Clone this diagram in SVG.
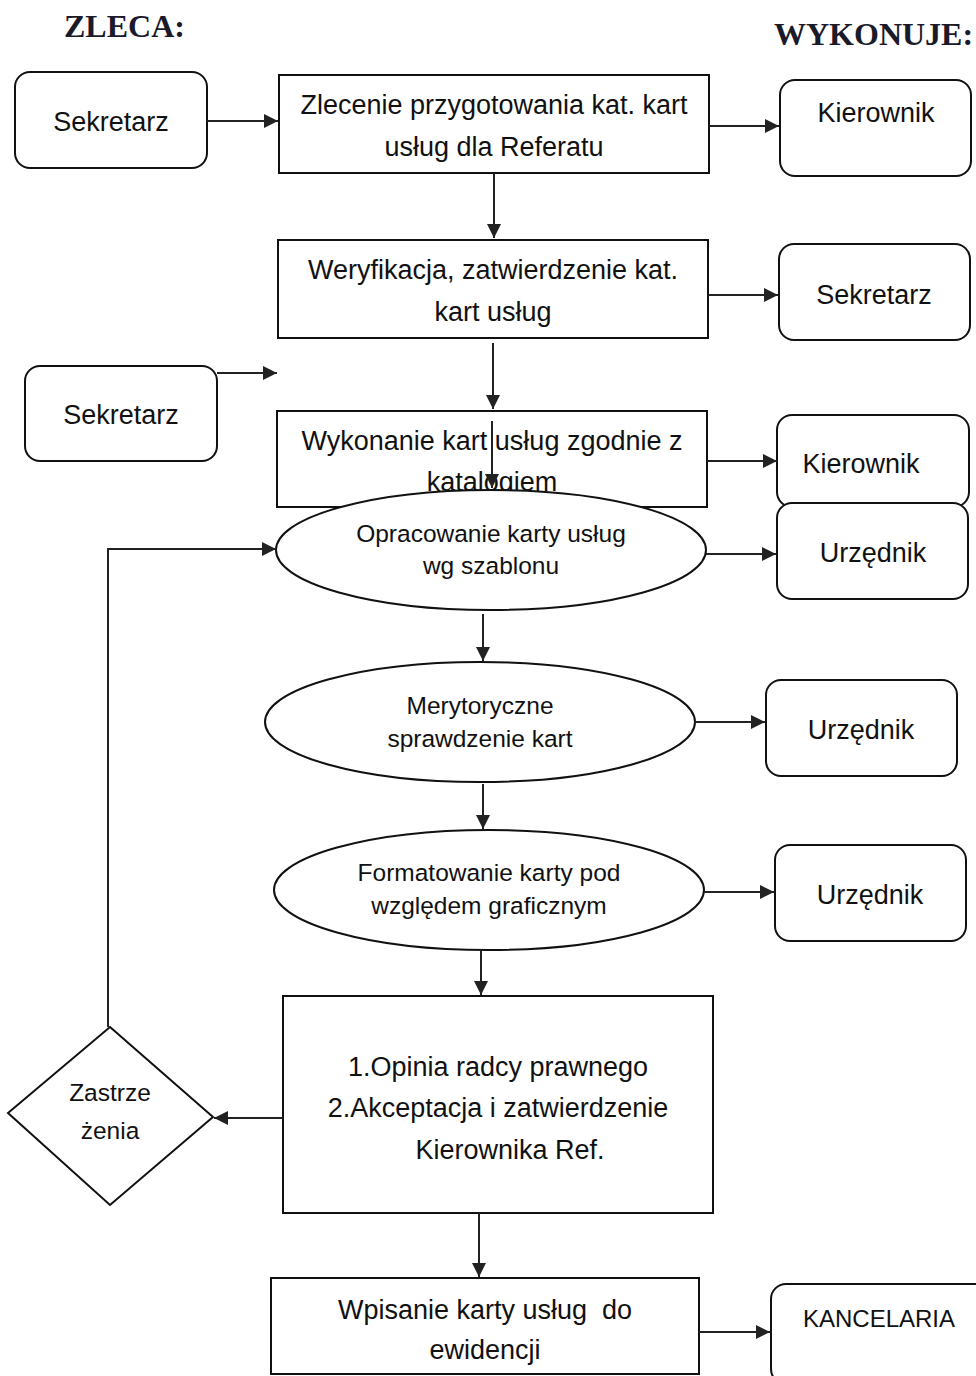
<svg xmlns="http://www.w3.org/2000/svg" width="976" height="1376" viewBox="0 0 976 1376">
<defs>
<marker id="ah" viewBox="0 0 10 10" refX="10" refY="5" markerWidth="14" markerHeight="14" markerUnits="userSpaceOnUse" orient="auto">
<path d="M0,0 L10,5 L0,10 z" fill="#222"/>
</marker>
<style>
.b{fill:#fff;stroke:#111;stroke-width:2}
.t{font-family:"Liberation Sans",Arial,sans-serif;font-size:27px;fill:#111;text-anchor:middle}
.s{font-family:"Liberation Sans",Arial,sans-serif;font-size:24.5px;fill:#111;text-anchor:middle}
.h{font-family:"Liberation Serif","Times New Roman",serif;font-size:32px;font-weight:bold;fill:#1a1a2a}
.c{fill:none;stroke:#222;stroke-width:2;marker-end:url(#ah)}
</style>
</defs>
<rect width="976" height="1376" fill="#fff"/>
<text class="h" x="64" y="37">ZLECA:</text>
<text class="h" x="774" y="45">WYKONUJE:</text>

<g id="sek1"><rect class="b" x="15" y="72" width="192" height="96" rx="15"/><text class="t" x="111" y="131">Sekretarz</text></g>
<g id="box1"><rect class="b" x="279" y="75" width="430" height="98"/><text class="t" x="494" y="114">Zlecenie przygotowania kat. kart</text><text class="t" x="494" y="156">usług dla Referatu</text></g>
<g id="kier1"><rect class="b" x="780" y="80" width="191" height="96" rx="15"/><text class="t" x="876" y="122">Kierownik</text></g>

<g id="box2"><rect class="b" x="278" y="240" width="430" height="98"/><text class="t" x="493" y="279">Weryfikacja, zatwierdzenie kat.</text><text class="t" x="493" y="321">kart usług</text></g>
<g id="sek2"><rect class="b" x="779" y="244" width="191" height="96" rx="15"/><text class="t" x="874" y="304">Sekretarz</text></g>

<g id="sek3"><rect class="b" x="25" y="366" width="192" height="95" rx="15"/><text class="t" x="121" y="424">Sekretarz</text></g>
<g id="box3"><rect class="b" x="277" y="411" width="430" height="96"/><text class="t" x="492" y="450">Wykonanie kart usług zgodnie z</text><text class="t" x="492" y="491">katalogiem</text></g>
<g id="kier2"><rect class="b" x="777" y="415" width="192" height="92" rx="15"/><text class="t" x="861" y="473">Kierownik</text></g>

<g id="ell1"><ellipse class="b" cx="491" cy="550" rx="215" ry="60"/><text class="s" x="491" y="542">Opracowanie karty usług</text><text class="s" x="491" y="574">wg szablonu</text></g>
<g id="urz1"><rect class="b" x="777" y="503" width="191" height="96" rx="15"/><text class="t" x="873" y="562">Urzędnik</text></g>

<g id="ell2"><ellipse class="b" cx="480" cy="722" rx="215" ry="60"/><text class="s" x="480" y="714">Merytoryczne</text><text class="s" x="480" y="747">sprawdzenie kart</text></g>
<g id="urz2"><rect class="b" x="766" y="680" width="191" height="96" rx="15"/><text class="t" x="861" y="739">Urzędnik</text></g>

<g id="ell3"><ellipse class="b" cx="489" cy="890" rx="215" ry="60"/><text class="s" x="489" y="881">Formatowanie karty pod</text><text class="s" x="489" y="914">względem graficznym</text></g>
<g id="urz3"><rect class="b" x="775" y="845" width="191" height="96" rx="15"/><text class="t" x="870" y="904">Urzędnik</text></g>

<g id="box4"><rect class="b" x="283" y="996" width="430" height="217"/><text class="t" x="498" y="1076">1.Opinia radcy prawnego</text><text class="t" x="498" y="1117">2.Akceptacja i zatwierdzenie</text><text class="t" x="510" y="1159">Kierownika Ref.</text></g>
<g id="diam"><polygon class="b" points="110,1027 213,1117 110,1205 8,1113"/><text class="s" x="110" y="1101">Zastrze</text><text class="s" x="110" y="1139">żenia</text></g>

<g id="box5"><rect class="b" x="271" y="1278" width="428" height="96"/><text class="t" x="485" y="1319">Wpisanie karty usług&#160; do</text><text class="t" x="485" y="1359">ewidencji</text></g>
<g id="kanc"><rect class="b" x="771" y="1284" width="220" height="100" rx="15"/><text class="t" x="879" y="1327" style="font-size:24px">KANCELARIA</text></g>

<g id="connectors">
<path class="c" d="M207,121 H278"/>
<path class="c" d="M709,126 H779"/>
<path class="c" d="M494,173 V238"/>
<path class="c" d="M708,295 H778"/>
<path class="c" d="M493,343 V409"/>
<path class="c" d="M217,373 H277"/>
<path class="c" d="M492,421 V488"/>
<path class="c" d="M707,461 H777"/>
<path class="c" d="M706,554 H776"/>
<path class="c" d="M108,1027 V549 H276"/>
<path class="c" d="M483,614 V661"/>
<path class="c" d="M695,722 H765"/>
<path class="c" d="M483,784 V829"/>
<path class="c" d="M704,892 H774"/>
<path class="c" d="M481,950 V995"/>
<path class="c" d="M283,1118 H214"/>
<path class="c" d="M479,1213 V1277"/>
<path class="c" d="M699,1332 H770"/>
</g>
</svg>
